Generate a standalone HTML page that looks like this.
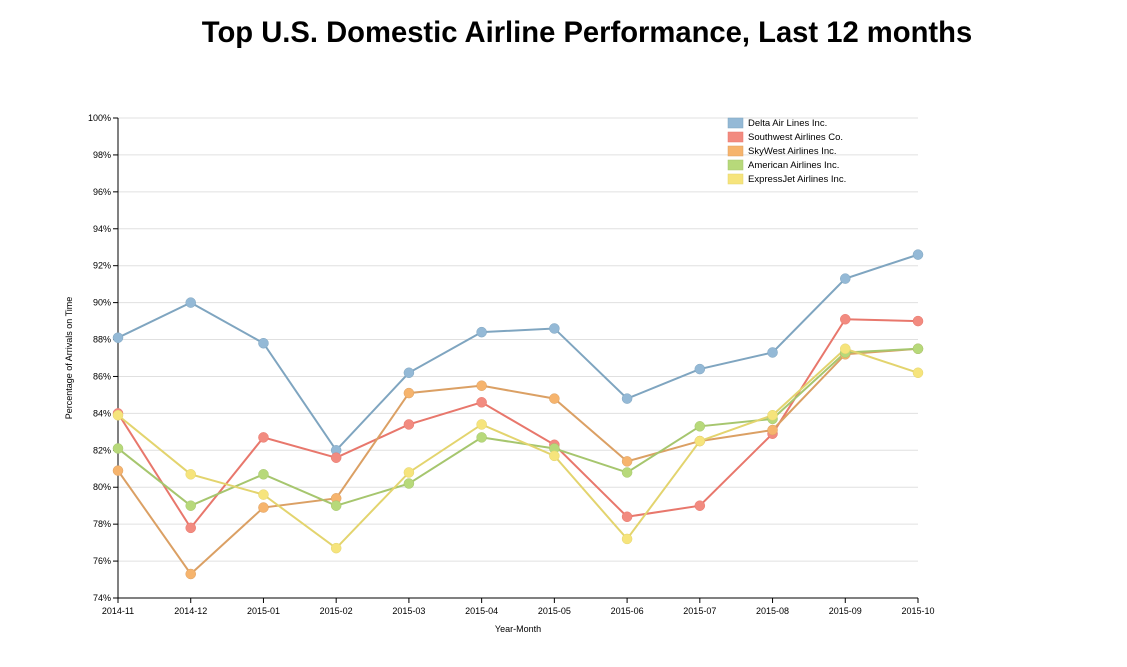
<!DOCTYPE html>
<html><head><meta charset="utf-8"><style>
body{margin:0;background:#fff;font-family:"Liberation Sans",sans-serif}
svg text{font-family:"Liberation Sans",sans-serif}
</style></head><body>
<svg id="chart" width="1127" height="662" xmlns="http://www.w3.org/2000/svg">
<text x="587" y="42" text-anchor="middle" font-size="29.2" font-weight="bold" fill="#000">Top U.S. Domestic Airline Performance, Last 12 months</text>
<g id="grid"></g>
<g id="yaxis"></g>
<g id="xaxis"></g>
<g id="series"></g>
<g id="legend"></g>
<text transform="translate(72,358) rotate(-90)" text-anchor="middle" font-size="9" fill="#000">Percentage of Arrivals on Time</text>
<text x="518" y="632" text-anchor="middle" font-size="9" fill="#000">Year-Month</text>
</svg>
<script>
const months=["2014-11","2014-12","2015-01","2015-02","2015-03","2015-04","2015-05","2015-06","2015-07","2015-08","2015-09","2015-10"];
const yTicks=[74,76,78,80,82,84,86,88,90,92,94,96,98,100];
const seriesNames=["Delta Air Lines Inc.","Southwest Airlines Co.","SkyWest Airlines Inc.","American Airlines Inc.","ExpressJet Airlines Inc."];
const delta=[88.1,90.0,87.8,82.0,86.2,88.4,88.6,84.8,86.4,87.3,91.3,92.6];
const southwest=[84.0,77.8,82.7,81.6,83.4,84.6,82.3,78.4,79.0,82.9,89.1,89.0];
const skywest=[80.9,75.3,78.9,79.4,85.1,85.5,84.8,81.4,82.5,83.1,87.2,87.5];
const american=[82.1,79.0,80.7,79.0,80.2,82.7,82.1,80.8,83.3,83.7,87.3,87.5];
const expressjet=[83.9,80.7,79.6,76.7,80.8,83.4,81.7,77.2,82.5,83.9,87.5,86.2];
const allSeries=[delta,southwest,skywest,american,expressjet];
const strokes=["#7fa5c0","#e8776c","#dba064","#a6c66e","#e3d46e"];
const fills=["#94b9d6","#f28b80","#f6b46d","#b7d97a","#f6e47c"];
const ns="http://www.w3.org/2000/svg";
const X0=118,X1=918,Y0=598,Y1=118;
const x=i=>X0+(X1-X0)*i/(months.length-1);
const y=v=>Y0-(v-74)/(100-74)*(Y0-Y1);
function mk(t,a,p){const e=document.createElementNS(ns,t);for(const k in a)e.setAttribute(k,a[k]);p.appendChild(e);return e;}
const grid=document.getElementById('grid'),ya=document.getElementById('yaxis'),xa=document.getElementById('xaxis'),sg=document.getElementById('series'),lg=document.getElementById('legend');
yTicks.forEach(t=>{
 const g=mk('line',{x1:X0,x2:X1,y1:y(t),y2:y(t),stroke:'#e0e0e0','stroke-width':1},grid);
 
 
 mk('line',{x1:X0-5,x2:X0,y1:y(t),y2:y(t),stroke:'#000'},ya);
 const tx=mk('text',{x:X0-7,y:y(t)+3,'text-anchor':'end','font-size':9},ya);
 
 
 tx.textContent=t+'%';
});
mk('line',{x1:X0,x2:X0,y1:Y1,y2:Y0,stroke:'#000'},ya);
mk('line',{x1:X0,x2:X1,y1:Y0,y2:Y0,stroke:'#000'},xa);
months.forEach((m,i)=>{
 mk('line',{x1:x(i),x2:x(i),y1:Y0,y2:Y0+5,stroke:'#000'},xa);
 const tx=mk('text',{x:x(i),y:Y0+16,'text-anchor':'middle','font-size':9},xa);
 
 
 tx.textContent=m;
});
allSeries.forEach((s,k)=>{
 const p=mk('polyline',{points:s.map((v,i)=>x(i)+','+y(v)).join(' '),fill:'none',stroke:strokes[k],'stroke-width':2},sg);
 
 
});
allSeries.forEach((s,k)=>{
 s.forEach((v,i)=>{
  const c=mk('circle',{cx:x(i),cy:y(v),r:5,fill:fills[k],stroke:strokes[k],'stroke-width':0.5},sg);
  
  
 });
});
seriesNames.forEach((n,k)=>{
 const r=mk('rect',{x:728,y:118+k*14,width:15,height:10,fill:fills[k],stroke:strokes[k],'stroke-width':0.5},lg);
 
 
 const t=mk('text',{x:748,y:126+k*14,'font-size':9.5,fill:'#000'},lg);
 
 
 t.textContent=n;
});
</script>
</body></html>
